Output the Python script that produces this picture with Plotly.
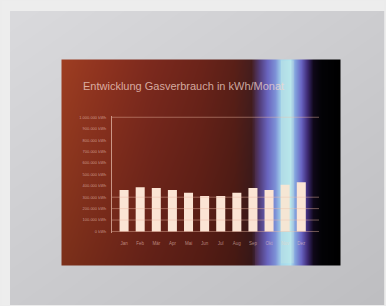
import numpy as np
import plotly.graph_objects as go

# ---- data ----
months = ["Jan", "Feb", "Mär", "Apr", "Mai", "Jun", "Jul", "Aug", "Sep", "Okt", "Nov", "Dez"]
consumption_kwh = [362000, 388000, 380000, 362000, 339000, 310000, 310000, 339000, 380000, 362000, 409000, 432000]
y_tick_values = [0, 100000, 200000, 300000, 400000, 500000, 600000, 700000, 800000, 900000, 1000000]
y_tick_labels = ["0 kWh", "100.000 kWh", "200.000 kWh", "300.000 kWh", "400.000 kWh", "500.000 kWh",
                 "600.000 kWh", "700.000 kWh", "800.000 kWh", "900.000 kWh", "1.000.000 kWh"]
grid_values = [0, 100000, 200000, 300000, 1000000]
title_text = "Entwicklung Gasverbrauch in kWh/Monat"

W, H = 386, 306

# ---- background picture (photo-like decoration) ----
yy, xx = np.mgrid[0:H, 0:W].astype(float)
g = 218 - 0.035 * (xx - 9) - 0.05 * (yy - 10)
bg = np.stack([g, g, g + 3], axis=-1)
outer = (xx < 9) | (yy < 10)
bg[outer] = [237, 237, 237]

stops_x = [60, 100, 150, 200, 235, 252, 260, 268, 276, 282, 291, 296, 302, 308, 314, 322, 341]
stops_c = [(158, 62, 34), (145, 52, 32), (125, 42, 30), (108, 36, 26), (90, 32, 24), (70, 30, 30),
           (82, 60, 120), (105, 100, 190), (125, 145, 215), (165, 215, 235), (175, 228, 240),
           (130, 160, 220), (105, 100, 195), (62, 42, 115), (15, 8, 25), (3, 3, 6), (0, 0, 0)]
stops_c = np.array(stops_c, dtype=float)
panel = np.zeros((H, W, 3))
for c in range(3):
    panel[..., c] = np.interp(xx, stops_x, stops_c[:, c])
t = np.clip((yy - 58) / 208.0, 0, 1)
warm = (xx < 256)[..., None]
dark = 1 - 0.22 * t
panel = np.where(warm, panel * dark[..., None], panel)
mx = np.clip(np.minimum(xx - 59.5, 341.5 - xx), 0, 1)
my = np.clip(np.minimum(yy - 57.5, 266.5 - yy), 0, 1)
m = (mx * my)[..., None]
img = bg * (1 - m) + panel * m
img = np.clip(img, 0, 255).astype(np.uint8)

fig = go.Figure()
fig.add_trace(go.Image(z=img, x0=0, y0=0, dx=1, dy=1, xaxis="x", yaxis="y", hoverinfo="skip"))

# gridlines
gx, gy = [], []
for v in grid_values:
    gx += [-0.75, 12.1, None]
    gy += [v, v, None]
fig.add_trace(go.Scatter(x=gx, y=gy, mode="lines", xaxis="x2", yaxis="y2",
                         line=dict(color="rgba(235,185,165,0.45)", width=1),
                         hoverinfo="skip", showlegend=False))

fig.add_trace(go.Bar(x=list(range(len(months))), y=consumption_kwh, xaxis="x2", yaxis="y2",
                     marker=dict(color="#fbe4d4", line=dict(width=0)), width=0.56,
                     showlegend=False))

fig.add_annotation(text=title_text, xref="paper", yref="paper", x=81 / W, y=1 - 86 / H,
                   xanchor="left", yanchor="middle", showarrow=False,
                   font=dict(family="Liberation Sans, Arial", size=11, color="rgba(245,215,205,0.75)"))

fig.add_shape(type="rect", xref="paper", yref="paper", x0=281 / W, x1=294 / W,
              y0=1 - 264 / H, y1=1 - 60 / H, fillcolor="rgba(225,240,215,0.2)",
              line=dict(width=0), layer="above")

fig.update_layout(
    width=W, height=H, autosize=False,
    margin=dict(l=0, r=0, t=0, b=0),
    paper_bgcolor="#ececec", plot_bgcolor="rgba(0,0,0,0)",
    showlegend=False,
    xaxis=dict(domain=[0, 1], range=[-0.5, W - 0.5], visible=False, fixedrange=True),
    yaxis=dict(domain=[0, 1], range=[H - 0.5, -0.5], visible=False, fixedrange=True),
    xaxis2=dict(domain=[112 / W, 319 / W], anchor="y2", range=[-0.75, 12.1],
                tickmode="array", tickvals=list(range(len(months))), ticktext=months,
                showgrid=False, zeroline=False, showline=False, ticks="",
                ticklabelstandoff=6, fixedrange=True,
                tickfont=dict(family="Liberation Sans, Arial", size=4.5, color="rgba(240,205,195,0.6)")),
    yaxis2=dict(domain=[(H - 233.7) / H, (H - 115.3) / H], anchor="x2", range=[-15000, 1015000],
                tickmode="array", tickvals=y_tick_values, ticktext=y_tick_labels,
                showgrid=False, zeroline=False, showline=True, linecolor="rgba(235,195,180,0.7)",
                linewidth=1, ticks="", ticklabelstandoff=4, fixedrange=True,
                tickfont=dict(family="Liberation Sans, Arial", size=4, color="rgba(240,205,195,0.65)")),
)

fig.write_html("out.html", config={"displayModeBar": False},
               post_script="document.body.style.margin='0';document.body.style.padding='0';"
                           "document.body.style.background='#ececec';")
